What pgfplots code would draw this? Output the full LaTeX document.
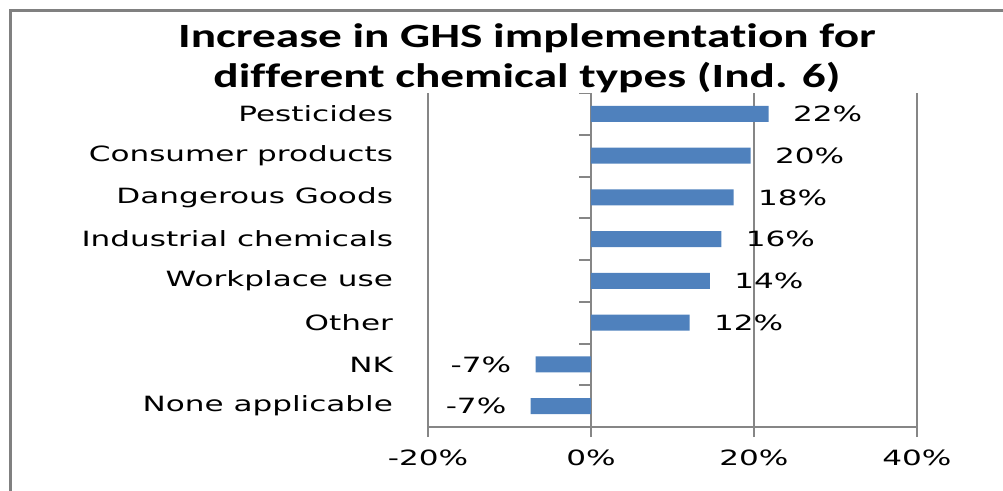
\documentclass[border=0pt]{standalone}
\usepackage{pgfplots}
\pgfplotsset{compat=1.18}
\usepackage{fontspec}
\newfontfamily\lab{DejaVu Sans}[FakeStretch=1.48]
\newfontfamily\ttl{Carlito}[FakeStretch=1.39, Ligatures={NoCommon}]
\definecolor{barblue}{HTML}{4F81BD}
\definecolor{gridc}{HTML}{868686}
\definecolor{framec}{HTML}{808080}

\begin{document}
\begin{tikzpicture}
  \useasboundingbox (0,0) rectangle (501.5pt,-245.5pt);
  % outer frame, only top and left edges are visible
  \draw[framec, line width=1.75pt] (5.25pt,-245.5pt) -- (5.25pt,-5.25pt) -- (501.5pt,-5.25pt);
  % title
  \node[anchor=base, font=\ttl\bfseries\fontsize{17}{20}\selectfont] at (263.5pt,-24pt) {Increase in GHS implementation for};
  \node[anchor=base, font=\ttl\bfseries\fontsize{17}{20}\selectfont] at (263.5pt,-44pt) {different chemical types (Ind. 6)};

  \begin{axis}[at={(214pt,-213.5pt)}, anchor=south west,
    scale only axis, width=244.5pt, height=167pt,
    xbar, bar width=8pt, bar shift=0pt,
    xmin=-20, xmax=40, ymin=-0.5, ymax=7.5, y dir=reverse,
    axis x line*=bottom, axis y line*=left,
    axis line style={gridc, line width=1pt},
    xtick={-20,0,20,40}, xticklabels={-20\%,0\%,20\%,40\%},
    xmajorgrids, grid style={gridc, line width=1pt},
    tick align=outside, major tick length=5pt,
    x tick style={gridc, line width=1pt},
    y tick style={draw=none},
    ytick={0,...,7},
    yticklabels={Pesticides, Consumer products, Dangerous Goods, Industrial chemicals, Workplace use, Other\ , NK, None applicable},
    tick label style={font=\lab\fontsize{10.5}{12}\selectfont, text=black},
    yticklabel style={anchor=east, xshift=-9pt},
    xticklabel style={yshift=-3pt},
    point meta=explicit symbolic,
    nodes near coords,
    every node near coord/.append style={font=\lab\fontsize{10.5}{12}\selectfont, text=black, inner xsep=12pt},
  ]
    % positive changes, labels right of the bar end
    \addplot[fill=barblue, draw=none, every node near coord/.append style={anchor=west}] coordinates {
      (21.8,0) [22\%]
      (19.6,1) [20\%]
      (17.5,2) [18\%]
      (16.0,3) [16\%]
      (14.6,4) [14\%]
      (12.1,5) [12\%]
    };
    % negative changes, labels left of the bar end
    \addplot[fill=barblue, draw=none, every node near coord/.append style={anchor=east}] coordinates {
      (-6.8,6) [-7\%]
      (-7.4,7) [-7\%]
    };
    \pgfplotsinvokeforeach{-0.5,0.5,1.5,2.5,3.5,4.5,5.5,6.5,7.5}{
      \draw[gridc, line width=1pt] (axis cs:0,#1) -- ([xshift=-6pt]axis cs:0,#1);
    }
  \end{axis}
\end{tikzpicture}
\end{document}
